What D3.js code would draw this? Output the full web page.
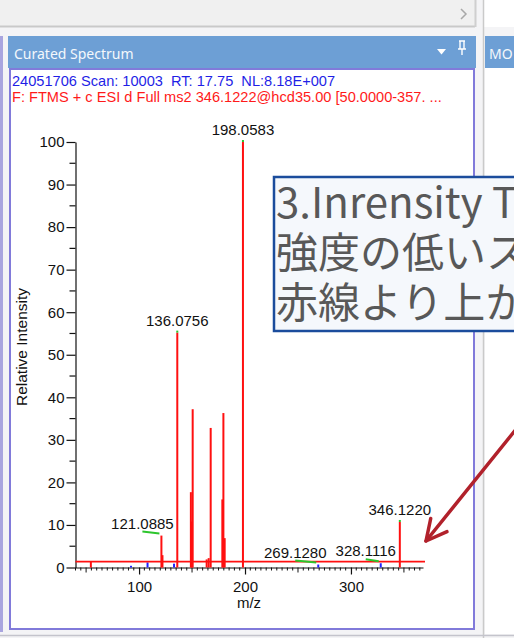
<!DOCTYPE html>
<html><head><meta charset="utf-8">
<script src="https://cdn.jsdelivr.net/npm/d3@7"></script>
<style>
html,body{margin:0;padding:0;background:#f5f5f7;overflow:hidden}
text{font-family:"Liberation Sans",Arial,sans-serif}
</style>
</head><body>
<svg id="c" width="514" height="638"></svg>
<script>
// Centroid peaks of the MS2 scan: m/z and relative intensity (%)
const peakMz  = [54.5, 92.4, 108.0, 121.0885, 122.09, 133.0, 136.0756, 148.9, 149.8, 150.6,
                 163.8, 165.7, 167.6, 178.6, 179.6, 180.8, 198.0583, 269.1280, 328.1116, 346.1220];
const peakInt = [1.5, 0.4, 1.2, 7.5, 2.9, 0.9, 55.2, 17.7, 10.8, 37.2,
                 1.9, 2.2, 32.8, 16.0, 36.3, 6.9, 100, 0.7, 1.0, 10.7];
// Peaks carrying an m/z annotation
const labeledMz = [121.0885, 136.0756, 198.0583, 269.1280, 328.1116, 346.1220];
// Intensity cut-off line (%)
const threshold = [1.4];
const yMajorTicks = [0, 10, 20, 30, 40, 50, 60, 70, 80, 90, 100];
const xMajorTicks = [100, 200, 300];
const xDomain = [40, 368];
const panelTitle = "Curated Spectrum";
const scanInfo = "24051706 Scan: 10003  RT: 17.75  NL:8.18E+007";
const filterInfo = "F: FTMS + c ESI d Full ms2 346.1222@hcd35.00 [50.0000-357. ...";
const noteLines = ["3.Inrensity T", "強度の低いス", "赤線より上か"];

const svg = d3.select("#c");

// ---------- window chrome ----------
svg.append("rect").attr("x",0).attr("y",0).attr("width",514).attr("height",638).attr("fill","#f4f4f6");
// horizontal scrollbar strip at the top
svg.append("rect").attr("x",0).attr("y",0).attr("width",475).attr("height",26).attr("fill","#f0f0f0");
svg.append("line").attr("x1",0).attr("x2",475).attr("y1",26.5).attr("y2",26.5).attr("stroke","#c9c9c9").attr("stroke-width",2);
svg.append("line").attr("x1",475.5).attr("x2",475.5).attr("y1",0).attr("y2",27).attr("stroke","#cfcfcf").attr("stroke-width",2);
svg.append("path").attr("d","M461,9 L466,14 L461,19").attr("fill","none").attr("stroke","#a8a8a8").attr("stroke-width",1.5);
svg.append("rect").attr("x",484).attr("y",0).attr("width",30).attr("height",27).attr("fill","#ffffff");
svg.append("line").attr("x1",483.5).attr("x2",483.5).attr("y1",0).attr("y2",638).attr("stroke","#cacaca").attr("stroke-width",1.5);

// left neighbour edge
svg.append("line").attr("x1",1.5).attr("x2",1.5).attr("y1",36).attr("y2",632).attr("stroke","#a9a5df").attr("stroke-width",3);

// panel header
const headBlue = "#6d9fd5";
svg.append("rect").attr("x",8).attr("y",36).attr("width",468).attr("height",32).attr("fill",headBlue);
svg.append("text").attr("x",14).attr("y",59).attr("fill","#f4f8fc")
  .style("font-family","'Noto Sans',sans-serif").style("font-size","14px").text(panelTitle);
svg.append("path").attr("d","M437,49 L446,49 L441.5,54.5 Z").attr("fill","#ffffff");
svg.append("path").attr("d","M459,41 L465,41 M460,41 L460,49 M464,41 L464,49 M458,49 L466,49 M462,49 L462,55")
  .attr("fill","none").attr("stroke","#ffffff").attr("stroke-width",1.4);

// right neighbour panel
svg.append("rect").attr("x",485).attr("y",36).attr("width",29).attr("height",32).attr("fill",headBlue);
svg.append("text").attr("x",489).attr("y",59).attr("fill","#f4f8fc")
  .style("font-family","'Noto Sans',sans-serif").style("font-size","14px").text("MO");
svg.append("rect").attr("x",485).attr("y",68).attr("width",29).attr("height",566).attr("fill","#ffffff");

// spectrum frame
svg.append("rect").attr("x",10).attr("y",69).attr("width",464).attr("height",560)
  .attr("fill","#ffffff").attr("stroke","#817ada").attr("stroke-width",2);
svg.append("line").attr("x1",0).attr("x2",514).attr("y1",635.5).attr("y2",635.5).attr("stroke","#c4c4cc").attr("stroke-width",1.5);

// scan header lines
svg.append("text").attr("x",12).attr("y",85.5).attr("fill","#1f1fe6").style("font-size","14.6px")
  .style("white-space","pre").text(scanInfo);
svg.append("text").attr("x",12).attr("y",102).attr("fill","#ff1a1a").style("font-size","14.6px")
  .style("white-space","pre").text(filterInfo);

// ---------- spectrum ----------
const x = d3.scaleLinear().domain(xDomain).range([75.5, 423]);
const y = d3.scaleLinear().domain([0, 100]).range([567.5, 142]);

const g = svg.append("g");

// minor / medium x ticks
const minorX = d3.range(40, 368.1, 5);
g.append("g").attr("transform","translate(0,567.5)")
  .selectAll("line").data(minorX).join("line")
  .attr("x1",d=>x(d)).attr("x2",d=>x(d)).attr("y1",0)
  .attr("y2",d=> d%100===0 ? 0 : (d%50===0 ? 5 : 3))
  .attr("stroke","#111").attr("stroke-width",1);

const xAxis = g.append("g").attr("transform","translate(0,567.5)")
  .call(d3.axisBottom(x).tickValues(xMajorTicks).tickSize(7).tickSizeOuter(0).tickPadding(7).tickFormat(d3.format("d")));
xAxis.select(".domain").attr("stroke","#111").attr("stroke-width",1.2);
xAxis.selectAll(".tick line").attr("stroke","#111").attr("stroke-width",1.2);
xAxis.selectAll("text").style("font-size","15px").attr("fill","#111")
  .style("font-family","'Liberation Sans',Arial,sans-serif");

// minor y ticks
const minorY = d3.range(5, 100, 10);
g.append("g").selectAll("line").data(minorY).join("line")
  .attr("x1",75.5-6).attr("x2",75.5).attr("y1",d=>y(d)).attr("y2",d=>y(d))
  .attr("stroke","#111").attr("stroke-width",1.2);

const yAxis = g.append("g").attr("transform","translate(75.5,0)")
  .call(d3.axisLeft(y).tickValues(yMajorTicks).tickSize(9).tickSizeOuter(0).tickPadding(2));
yAxis.select(".domain").attr("stroke","#111").attr("stroke-width",1.2);
yAxis.selectAll(".tick line").attr("stroke","#111").attr("stroke-width",1.2);
yAxis.selectAll("text").style("font-size","15px").attr("fill","#111")
  .style("font-family","'Liberation Sans',Arial,sans-serif");

// axis titles
svg.append("text").attr("transform","translate(27,347) rotate(-90)").attr("text-anchor","middle")
  .style("font-size","15.5px").attr("fill","#111").text("Relative Intensity");
svg.append("text").attr("x",249).attr("y",608).attr("text-anchor","middle")
  .style("font-size","15px").attr("fill","#111").text("m/z");

// stick peaks
const peaks = peakMz.map((m,i)=>({mz:m, val:peakInt[i]}));
g.append("g").selectAll("line").data(peaks).join("line")
  .attr("x1",d=>x(d.mz)).attr("x2",d=>x(d.mz))
  .attr("y1",y(0)).attr("y2",d=>y(d.val))
  .attr("stroke",d=> d.val > threshold[0] ? "#ff1010" : "#2020ff")
  .attr("stroke-width",2);

// intensity cut-off line
g.append("line").attr("x1",75.5).attr("x2",425).attr("y1",y(threshold[0])).attr("y2",y(threshold[0]))
  .attr("stroke","#ff1010").attr("stroke-width",1.8);

// peak annotations (some labels are pushed sideways and tied back with a leader)
const labelShift = new Map([[121.0885,-19],[269.1280,-23],[328.1116,-15]]);
const fmt = d3.format(".4f");
const labeled = peaks.filter(p => labeledMz.includes(p.mz));
labeled.forEach(p=>{
  const px = x(p.mz), top = y(p.val);
  const dx = labelShift.get(p.mz) || 0;
  const base = top - 7;
  g.append("text").attr("x",px+dx).attr("y",base).attr("text-anchor","middle")
    .style("font-size","15px").attr("fill","#111").text(fmt(p.mz));
  if (dx) {
    g.append("line").attr("x1",px+dx).attr("y1",base+3).attr("x2",px-2).attr("y2",base+5)
      .attr("stroke","#2cc52c").attr("stroke-width",2);
  } else {
    g.append("rect").attr("x",px-1).attr("y",top-2).attr("width",2).attr("height",2).attr("fill","#2cc52c");
  }
});

// ---------- call-out note ----------
svg.append("rect").attr("x",274).attr("y",177).attr("width",260).attr("height",154)
  .attr("fill","#f5f8fc").attr("stroke","#1b4c9c").attr("stroke-width",2.5);
const noteBase = [218, 268, 318];
svg.append("g").selectAll("text").data(noteLines).join("text")
  .attr("x",276).attr("y",(d,i)=>noteBase[i])
  .style("font-family","'Noto Sans CJK JP',sans-serif").style("font-size","42px")
  .attr("fill","#585858").text(d=>d);

// arrow pointing at the cut-off line
const tip = [426, 541];
const ang = Math.atan2(-108, 87);
const len = 150, wing = 23, spread = 27*Math.PI/180;
const arrow = svg.append("g").attr("stroke","#b1212b").attr("stroke-width",3.5)
  .attr("stroke-linecap","round").attr("fill","none");
arrow.append("line").attr("x1",tip[0]).attr("y1",tip[1])
  .attr("x2",tip[0]+len*Math.cos(ang)).attr("y2",tip[1]+len*Math.sin(ang));
arrow.append("path").attr("d",
  `M${tip[0]+wing*Math.cos(ang-spread)},${tip[1]+wing*Math.sin(ang-spread)} L${tip[0]},${tip[1]} L${tip[0]+wing*Math.cos(ang+spread)},${tip[1]+wing*Math.sin(ang+spread)}`)
  .attr("stroke-linejoin","round");
</script>
</body></html>
